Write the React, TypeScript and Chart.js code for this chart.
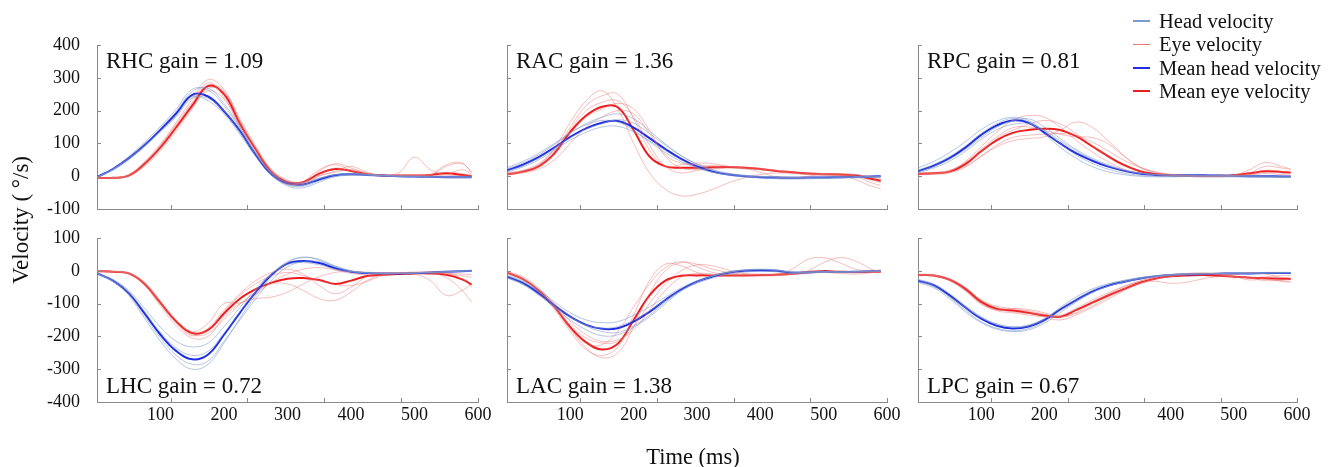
import React, { useEffect, useRef } from 'react';
import { Chart, registerables } from 'chart.js';

Chart.register(...registerables);

// ---------- data ----------
const TIMES = [0, 25, 50, 75, 100, 125, 150, 175, 200, 225, 250, 275, 300, 325, 350, 375, 400, 425, 450, 475, 500, 525, 550, 575, 590];
const X_TICK_LABELS = [100, 200, 300, 400, 500, 600];
const X_TICK_MARKS = [116, 237, 358, 479, 600];
const Y_TICKS_TOP = [-100, 0, 100, 200, 300, 400];
const Y_TICKS_BOTTOM = [-400, -300, -200, -100, 0, 100];

const PANEL_LABELS = ['RHC gain = 1.09', 'RAC gain = 1.36', 'RPC gain = 0.81', 'LHC gain = 0.72', 'LAC gain = 1.38', 'LPC gain = 0.67'];
const LEGEND_LABELS = ['Head velocity', 'Eye velocity', 'Mean head velocity', 'Mean eye velocity'];

// RHC
const RHC_HEAD_MEAN = [-3, 22, 55, 95, 142, 192, 248, 243, 198, 138, 65, 5, -22, -25, -10, 3, 6, 4, 2, 0, -1, -2, -3, -3, -3];
const RHC_EYE_MEAN = [-5, -5, 2, 38, 88, 150, 215, 275, 250, 160, 82, 12, -18, -18, 8, 22, 16, 6, 2, 2, 2, 4, 9, 4, 0];
const RHC_HEAD_TRIALS = [
  [-3, 22, 60, 104, 152, 205, 265, 262, 215, 145, 70, 5, -30, -35, -18, -2, 3, 3, 1, -1, -2, -3, -4, -4, -4],
  [-2, 18, 50, 90, 135, 182, 238, 237, 198, 135, 66, 10, -18, -20, -6, 5, 8, 6, 3, 1, 0, -1, -2, -2, -2],
  [-4, 20, 56, 98, 146, 198, 258, 268, 222, 150, 72, 8, -26, -30, -14, 0, 4, 3, 2, 0, -1, -2, -3, -3, -3],
  [-3, 21, 54, 93, 138, 186, 242, 230, 190, 128, 60, 2, -25, -26, -8, 4, 6, 5, 2, 0, -1, -2, -3, -3, -3],
];
const RHC_EYE_TRIALS = [
  [-5, -5, 5, 45, 98, 165, 235, 295, 265, 170, 85, 15, -22, -20, 15, 38, 25, 8, 3, 2, 2, 5, 12, 8, 2],
  [-5, -4, 0, 30, 78, 138, 205, 268, 255, 175, 92, 20, -15, -20, 2, 15, 30, 12, 3, 10, 58, 20, 4, 2, 0],
  [-5, -5, 3, 42, 95, 160, 225, 285, 240, 150, 72, 10, -25, -15, 20, 35, 18, 5, 2, 3, 2, 3, 30, 38, 12],
  [-6, -5, 1, 35, 85, 145, 210, 260, 235, 158, 78, 12, -20, -25, 0, 12, 20, 10, 2, 1, 1, 2, 4, 20, 5],
  [-4, -5, 4, 40, 92, 155, 222, 278, 260, 168, 85, 20, -12, -18, 5, 25, 15, 6, 2, 2, 3, 4, 35, 40, 10],
];

// RAC
const RAC_HEAD_MEAN = [18, 35, 58, 88, 120, 146, 163, 168, 148, 116, 83, 53, 30, 14, 5, 0, -3, -4, -5, -4, -4, -3, -2, -1, 0];
const RAC_EYE_MEAN = [6, 14, 30, 70, 135, 185, 212, 210, 140, 60, 30, 26, 26, 27, 28, 26, 22, 16, 12, 8, 6, 5, 2, -8, -14];
const RAC_HEAD_TRIALS = [
  [22, 40, 65, 97, 132, 160, 180, 190, 175, 138, 98, 63, 36, 18, 7, 1, -3, -5, -6, -6, -5, -4, -3, -2, -1],
  [12, 28, 50, 80, 110, 134, 150, 152, 135, 108, 78, 50, 27, 12, 3, -2, -5, -8, -9, -8, -7, -6, -5, -4, -3],
  [26, 45, 70, 100, 132, 157, 170, 165, 140, 105, 72, 45, 25, 12, 5, 1, -1, -2, -3, -3, -2, -2, -1, 0, 0],
  [15, 32, 55, 85, 117, 143, 160, 172, 162, 130, 95, 62, 38, 20, 9, 3, 0, -2, -4, -4, -3, -3, -2, -1, 0],
];
const RAC_EYE_TRIALS = [
  [5, 12, 28, 75, 150, 215, 245, 250, 175, 80, 30, 35, 40, 38, 30, 25, 22, 18, 14, 10, 8, 5, 0, -20, -28],
  [8, 16, 35, 85, 165, 230, 260, 205, 100, 10, -40, -60, -55, -40, -20, -5, 5, 10, 8, 5, 4, 3, -10, -30, -38],
  [4, 10, 22, 50, 100, 150, 180, 200, 190, 130, 65, 40, 35, 32, 30, 24, 12, -2, -5, 0, 6, 8, 5, -2, -8],
  [10, 18, 38, 80, 142, 200, 225, 230, 180, 95, 30, 10, 18, 25, 28, 28, 24, 18, 12, 8, 5, 2, 5, -5, -20],
  [6, 14, 32, 70, 130, 180, 205, 222, 205, 140, 60, 25, 20, 22, 25, 22, 20, 15, 10, 6, 4, 3, 1, -12, -18],
];

// RPC
const RPC_HEAD_MEAN = [15, 32, 55, 87, 126, 155, 170, 163, 133, 100, 70, 48, 30, 17, 8, 4, 3, 3, 3, 2, 1, 0, 0, -1, -1];
const RPC_EYE_MEAN = [7, 9, 14, 37, 76, 110, 132, 141, 145, 141, 122, 92, 62, 35, 16, 7, 3, 1, 1, 1, 3, 9, 15, 13, 11];
const RPC_HEAD_TRIALS = [
  [25, 45, 72, 105, 142, 168, 180, 170, 138, 100, 65, 40, 22, 10, 3, 0, -1, -1, -2, -2, -2, -2, -3, -4, -4],
  [10, 25, 46, 76, 112, 142, 158, 160, 140, 108, 78, 52, 32, 18, 9, 5, 4, 4, 3, 3, 2, 1, 0, 0, 0],
  [18, 36, 60, 92, 130, 160, 176, 165, 128, 88, 55, 30, 14, 5, 0, -2, -2, -1, 0, 0, -1, -2, -2, -3, -3],
  [14, 30, 52, 82, 118, 150, 168, 175, 150, 115, 82, 56, 36, 20, 10, 5, 3, 3, 2, 2, 1, 0, 0, -1, -1],
];
const RPC_EYE_TRIALS = [
  [5, 8, 15, 45, 90, 135, 170, 185, 180, 150, 110, 75, 45, 22, 10, 4, 2, 1, 0, 0, 2, 10, 30, 25, 20],
  [8, 10, 12, 30, 62, 90, 108, 115, 120, 140, 165, 150, 110, 65, 30, 12, 5, 2, 0, -2, 1, 5, 12, 10, 8],
  [6, 9, 16, 42, 82, 120, 148, 150, 140, 128, 120, 118, 100, 62, 28, 10, 3, 0, -2, 0, 3, 20, 42, 30, 22],
  [10, 12, 18, 40, 75, 115, 140, 158, 170, 160, 130, 95, 60, 32, 15, 6, 3, 2, 2, 2, 2, 4, 8, 5, 3],
  [4, 6, 10, 28, 60, 95, 118, 125, 128, 130, 125, 105, 78, 50, 28, 14, 6, 2, 0, -1, 0, 6, 18, 15, 12],
];

// LHC
const LHC_HEAD_MEAN = [-8, -30, -68, -130, -195, -245, -270, -255, -195, -128, -65, -12, 22, 30, 24, 8, -3, -7, -8, -8, -7, -5, -3, -1, 0];
const LHC_EYE_MEAN = [-1, -3, -8, -40, -98, -155, -190, -180, -130, -85, -56, -36, -24, -22, -28, -40, -30, -16, -12, -10, -8, -8, -12, -26, -42];
const LHC_HEAD_TRIALS = [
  [-8, -32, -75, -145, -215, -270, -300, -285, -220, -145, -75, -18, 25, 40, 35, 15, 0, -6, -8, -8, -7, -5, -3, -1, 0],
  [-7, -26, -60, -115, -172, -215, -232, -220, -170, -112, -55, -8, 20, 25, 18, 5, -3, -6, -7, -7, -6, -5, -3, -1, 0],
  [-9, -33, -72, -138, -205, -258, -285, -275, -215, -150, -85, -28, 12, 28, 28, 14, 0, -6, -8, -8, -7, -5, -3, -1, 0],
  [-8, -30, -66, -125, -188, -236, -258, -245, -190, -125, -62, -10, 28, 42, 32, 12, -2, -7, -8, -8, -7, -5, -3, -1, 0],
];
const LHC_EYE_TRIALS = [
  [0, -2, -8, -42, -102, -160, -198, -175, -120, -70, -30, -5, 5, -10, -45, -70, -50, -18, -8, -6, -5, -8, -20, -60, -95],
  [-2, -4, -10, -45, -108, -168, -205, -200, -140, -100, -85, -80, -65, -40, -18, -5, -2, -4, -6, -8, -10, -30, -75, -60, -40],
  [0, -2, -6, -35, -92, -150, -185, -160, -100, -98, -72, -35, -10, 5, 10, 2, -8, -12, -10, -6, -4, -4, -5, -25, -50],
  [-1, -3, -9, -40, -100, -158, -195, -190, -148, -102, -65, -40, -40, -60, -85, -90, -65, -30, -12, -8, -6, -6, -10, -15, -20],
  [0, -2, -7, -38, -96, -152, -188, -178, -125, -75, -40, -15, -5, -15, -30, -42, -45, -32, -15, -8, -5, -5, -8, -10, -12],
];

// LAC
const LAC_HEAD_MEAN = [-18, -37, -68, -106, -140, -165, -177, -175, -155, -125, -89, -57, -33, -17, -6, 0, 2, 0, -6, -5, -3, -4, -3, -1, 0];
const LAC_EYE_MEAN = [-6, -25, -60, -110, -172, -218, -240, -222, -150, -75, -30, -15, -14, -14, -14, -14, -13, -12, -9, -4, -1, -3, -4, -3, -3];
const LAC_HEAD_TRIALS = [
  [-20, -40, -72, -112, -150, -180, -198, -195, -172, -140, -100, -62, -35, -16, -4, 2, 4, 2, -4, -4, -3, -3, -2, -1, 0],
  [-14, -30, -58, -95, -128, -150, -158, -155, -135, -110, -80, -52, -30, -14, -3, 3, 5, 3, -3, -3, -2, -3, -2, -1, 0],
  [-22, -42, -74, -110, -142, -165, -175, -170, -150, -122, -90, -60, -38, -22, -10, -4, -2, -3, -8, -7, -5, -5, -4, -2, -1],
  [-16, -34, -64, -102, -138, -168, -185, -188, -168, -135, -95, -60, -34, -16, -5, 1, 3, 1, -5, -5, -4, -4, -3, -1, 0],
];
const LAC_EYE_TRIALS = [
  [-2, -18, -52, -105, -175, -235, -265, -250, -170, -70, 0, 25, 20, 5, -5, -10, -10, -10, -8, -2, -1, -3, -4, -3, -3],
  [-4, -22, -58, -112, -178, -222, -225, -185, -110, -40, 10, 28, 12, -5, -10, -12, -12, -10, 5, 35, 40, 25, 5, 0, -3],
  [-8, -28, -62, -108, -165, -205, -220, -215, -170, -100, -40, 0, 18, 15, 2, -8, -12, -14, -10, 0, 25, 40, 30, 5, -2],
  [-6, -26, -65, -118, -185, -240, -258, -232, -135, -30, 20, 15, -5, -15, -15, -15, -16, -15, -12, -8, -5, -8, -10, -6, -4],
  [-5, -24, -56, -100, -155, -195, -215, -210, -180, -120, -60, -20, -8, -10, -12, -12, -12, -12, -10, -6, -3, -5, -6, -4, -3],
];

// LPC
const LPC_HEAD_MEAN = [-30, -44, -75, -112, -146, -168, -176, -170, -150, -118, -90, -64, -46, -34, -24, -17, -13, -11, -10, -9, -8, -8, -7, -7, -7];
const LPC_EYE_MEAN = [-13, -14, -27, -55, -95, -116, -121, -128, -136, -140, -120, -98, -76, -56, -37, -24, -17, -14, -13, -15, -18, -21, -23, -24, -25];
const LPC_HEAD_TRIALS = [
  [-28, -45, -80, -120, -155, -175, -183, -176, -155, -122, -92, -66, -48, -35, -25, -18, -13, -10, -9, -8, -7, -7, -6, -6, -6],
  [-33, -48, -78, -112, -143, -163, -170, -165, -146, -115, -86, -60, -42, -30, -21, -15, -11, -10, -9, -8, -7, -7, -6, -5, -5],
  [-35, -52, -85, -125, -158, -178, -185, -180, -160, -128, -96, -68, -48, -34, -24, -17, -12, -10, -9, -8, -8, -8, -8, -7, -7],
  [-26, -40, -70, -106, -140, -162, -172, -168, -148, -112, -80, -56, -40, -30, -22, -16, -12, -10, -9, -8, -7, -6, -5, -5, -5],
];
const LPC_EYE_TRIALS = [
  [-10, -12, -25, -52, -90, -112, -118, -125, -140, -150, -135, -112, -88, -62, -40, -25, -17, -12, -10, -12, -18, -28, -25, -30, -32],
  [-15, -16, -30, -60, -100, -120, -115, -118, -128, -140, -128, -100, -72, -50, -32, -20, -12, -8, -6, -8, -12, -5, -10, -20, -22],
  [-12, -14, -28, -58, -98, -122, -128, -135, -140, -138, -118, -95, -75, -55, -38, -32, -38, -35, -25, -18, -18, -22, -30, -28, -25],
  [-14, -13, -24, -50, -88, -108, -115, -122, -132, -142, -130, -108, -82, -60, -40, -26, -18, -12, -10, -12, -18, -22, -18, -15, -15],
  [-11, -15, -30, -62, -102, -118, -125, -130, -134, -136, -115, -90, -68, -48, -32, -20, -14, -10, -8, -10, -15, -20, -25, -32, -35],
];

// ---------- styling / layout ----------
const W = 1331;
const H = 467;
const SERIF = '"Liberation Serif", "Times New Roman", serif';
const AXIS_COLOR = '#8a8a8a';
const TRIAL_HEAD_COLOR = 'rgba(120, 150, 200, 0.55)';
const TRIAL_EYE_COLOR = 'rgba(232, 110, 110, 0.45)';
const MEAN_HEAD_COLOR = '#1f2ee6';
const MEAN_EYE_COLOR = '#ee1c1c';
const LEGEND_COLORS = ['rgb(120,155,210)', 'rgb(232,120,120)', MEAN_HEAD_COLOR, MEAN_EYE_COLOR];
const LEGEND_WIDTHS = [1.2, 1.2, 2.6, 2.6];

const COLS = [
  { left: 97, right: 478 },
  { left: 507, right: 887 },
  { left: 918, right: 1297 },
];
const ROWS = [
  { top: 45, bottom: 209 },
  { top: 238, bottom: 402 },
];
const Y_AXIS_W = 60;
const X_AXIS_H = 30;

const PANELS = [
  { row: 0, col: 0, headMean: RHC_HEAD_MEAN, eyeMean: RHC_EYE_MEAN, heads: RHC_HEAD_TRIALS, eyes: RHC_EYE_TRIALS },
  { row: 0, col: 1, headMean: RAC_HEAD_MEAN, eyeMean: RAC_EYE_MEAN, heads: RAC_HEAD_TRIALS, eyes: RAC_EYE_TRIALS },
  { row: 0, col: 2, headMean: RPC_HEAD_MEAN, eyeMean: RPC_EYE_MEAN, heads: RPC_HEAD_TRIALS, eyes: RPC_EYE_TRIALS },
  { row: 1, col: 0, headMean: LHC_HEAD_MEAN, eyeMean: LHC_EYE_MEAN, heads: LHC_HEAD_TRIALS, eyes: LHC_EYE_TRIALS },
  { row: 1, col: 1, headMean: LAC_HEAD_MEAN, eyeMean: LAC_EYE_MEAN, heads: LAC_HEAD_TRIALS, eyes: LAC_EYE_TRIALS },
  { row: 1, col: 2, headMean: LPC_HEAD_MEAN, eyeMean: LPC_EYE_MEAN, heads: LPC_HEAD_TRIALS, eyes: LPC_EYE_TRIALS },
];

const toPoints = (vals: number[]) => TIMES.map((t, i) => ({ x: t, y: vals[i] }));

const panelDecor = {
  id: 'panelDecor',
  afterDatasetsDraw(chart: any, _args: any, opts: any) {
    const { ctx, chartArea, scales } = chart;
    ctx.save();
    ctx.strokeStyle = AXIS_COLOR;
    ctx.lineWidth = 1;
    opts.xMarks.forEach((v: number) => {
      const x = Math.round(scales.x.getPixelForValue(v)) + 0.5;
      ctx.beginPath();
      ctx.moveTo(x, chartArea.bottom);
      ctx.lineTo(x, chartArea.bottom - 4);
      ctx.stroke();
    });
    opts.yMarks.forEach((v: number) => {
      const y = Math.round(scales.y.getPixelForValue(v)) + 0.5;
      ctx.beginPath();
      ctx.moveTo(chartArea.left, y);
      ctx.lineTo(chartArea.left + 4, y);
      ctx.stroke();
    });
    ctx.font = `23px ${SERIF}`;
    ctx.fillStyle = '#111';
    ctx.textBaseline = 'middle';
    ctx.textAlign = 'left';
    const ty = opts.top ? chartArea.top + 17 : chartArea.bottom - 15;
    ctx.fillText(opts.label, chartArea.left + 9, ty);
    ctx.restore();
  },
};

function Panel({ index }: { index: number }) {
  const ref = useRef<HTMLCanvasElement>(null);
  useEffect(() => {
    const p = PANELS[index];
    const col = COLS[p.col];
    const row = ROWS[p.row];
    const isTop = p.row === 0;
    const isLeft = p.col === 0;
    const yTicks = isTop ? Y_TICKS_TOP : Y_TICKS_BOTTOM;

    const datasets: any[] = [];
    p.heads.forEach((tr) => datasets.push({ data: toPoints(tr), borderColor: TRIAL_HEAD_COLOR, borderWidth: 1 }));
    p.eyes.forEach((tr) => datasets.push({ data: toPoints(tr), borderColor: TRIAL_EYE_COLOR, borderWidth: 1 }));
    datasets.push({ data: toPoints(p.headMean), borderColor: MEAN_HEAD_COLOR, borderWidth: 2 });
    datasets.push({ data: toPoints(p.eyeMean), borderColor: MEAN_EYE_COLOR, borderWidth: 2 });

    const chart = new Chart(ref.current as HTMLCanvasElement, {
      type: 'line',
      data: { datasets },
      plugins: [panelDecor],
      options: {
        animation: false,
        responsive: false,
        maintainAspectRatio: false,
        devicePixelRatio: 1,
        layout: {
          padding: {
            left: col.left - Y_AXIS_W,
            right: W - col.right,
            top: row.top,
            bottom: H - row.bottom - X_AXIS_H,
          },
        },
        elements: {
          point: { radius: 0, hoverRadius: 0 },
          line: { tension: 0.4, cubicInterpolationMode: 'default', fill: false },
        },
        plugins: {
          legend: { display: false },
          tooltip: { enabled: false },
          panelDecor: { xMarks: X_TICK_MARKS, yMarks: yTicks, label: PANEL_LABELS[index], top: isTop },
        } as any,
        scales: {
          x: {
            type: 'linear',
            min: 0,
            max: 600,
            afterBuildTicks: (s: any) => {
              s.ticks = X_TICK_LABELS.map((v) => ({ value: v }));
            },
            afterFit: (s: any) => {
              s.height = X_AXIS_H;
            },
            grid: { display: false, drawTicks: false },
            border: { display: true, color: AXIS_COLOR, width: 1 },
            ticks: {
              display: !isTop,
              color: '#111',
              padding: 2,
              maxRotation: 0,
              autoSkip: false,
              font: { family: SERIF, size: 18 },
            },
          },
          y: {
            type: 'linear',
            min: yTicks[0],
            max: yTicks[yTicks.length - 1],
            afterBuildTicks: (s: any) => {
              s.ticks = yTicks.map((v) => ({ value: v }));
            },
            afterFit: (s: any) => {
              s.width = Y_AXIS_W;
            },
            grid: { display: false, drawTicks: false },
            border: { display: true, color: AXIS_COLOR, width: 1 },
            ticks: {
              display: isLeft,
              color: '#111',
              padding: 17,
              autoSkip: false,
              font: { family: SERIF, size: 18 },
            },
          },
        },
      } as any,
    });
    return () => chart.destroy();
  }, [index]);
  return (
    <canvas
      ref={ref}
      width={W}
      height={H}
      style={{ position: 'absolute', left: 0, top: 0, width: W, height: H, display: 'block' }}
    />
  );
}

export default function App() {
  return (
    <div
      style={{
        position: 'absolute',
        left: 0,
        top: 0,
        width: W,
        height: H,
        background: '#fff',
        fontFamily: SERIF,
        color: '#111',
        overflow: 'hidden',
      }}
    >
      {PANELS.map((_, i) => (
        <Panel key={i} index={i} />
      ))}
      {/* y-axis title */}
      <div
        style={{
          position: 'absolute',
          left: 21 - 100,
          top: 220 - 14,
          width: 200,
          height: 28,
          lineHeight: '28px',
          textAlign: 'center',
          fontSize: 23,
          transform: 'rotate(-90deg)',
          whiteSpace: 'nowrap',
        }}
      >
        Velocity ( °/s)
      </div>
      {/* x-axis title */}
      <div
        style={{
          position: 'absolute',
          left: 693 - 100,
          top: 457 - 14,
          width: 200,
          height: 28,
          lineHeight: '28px',
          textAlign: 'center',
          fontSize: 22.5,
          whiteSpace: 'nowrap',
        }}
      >
        Time (ms)
      </div>
      {/* legend */}
      {LEGEND_LABELS.map((lab, i) => {
        const cy = 21 + i * 23.4;
        return (
          <React.Fragment key={lab}>
            <div
              style={{
                position: 'absolute',
                left: 1133,
                top: cy - LEGEND_WIDTHS[i] / 2,
                width: 17,
                height: LEGEND_WIDTHS[i],
                background: LEGEND_COLORS[i],
              }}
            />
            <div
              style={{
                position: 'absolute',
                left: 1159,
                top: cy - 13,
                height: 26,
                lineHeight: '26px',
                fontSize: 20.5,
                whiteSpace: 'nowrap',
              }}
            >
              {lab}
            </div>
          </React.Fragment>
        );
      })}
    </div>
  );
}
